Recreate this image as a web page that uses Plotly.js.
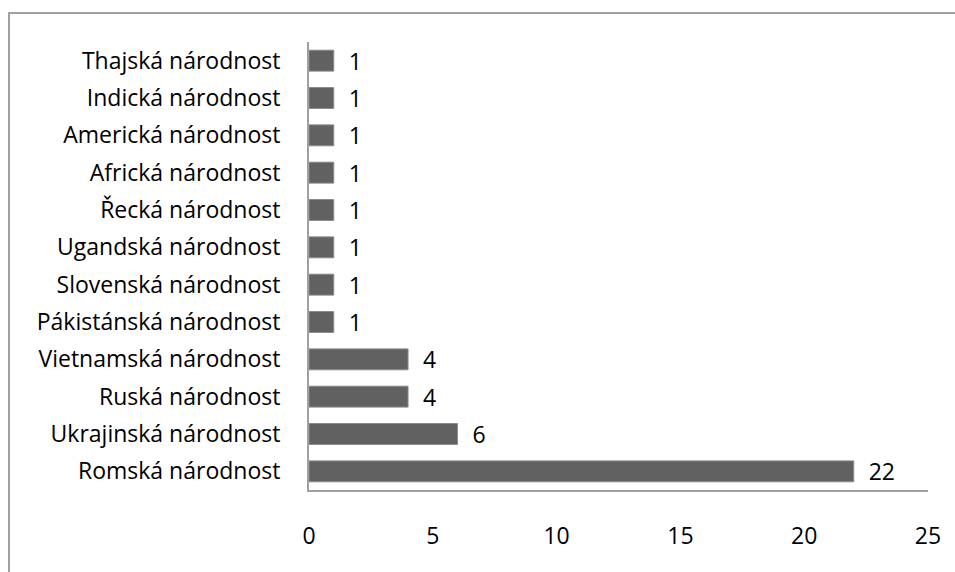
<!DOCTYPE html>
<html>
<head>
<meta charset="utf-8">
<script src="https://cdn.plot.ly/plotly-3.0.1.min.js"></script>
<style>html,body{margin:0;padding:0;background:#fff;}</style>
</head>
<body>
<div id="chart" style="width:955px;height:572px;"></div>
<script>
const categories = [
  "Romská národnost",
  "Ukrajinská národnost",
  "Ruská národnost",
  "Vietnamská národnost",
  "Pákistánská národnost",
  "Slovenská národnost",
  "Ugandská národnost",
  "Řecká národnost",
  "Africká národnost",
  "Americká národnost",
  "Indická národnost",
  "Thajská národnost"
];
const counts = [22, 6, 4, 4, 1, 1, 1, 1, 1, 1, 1, 1];
const xTicks = [0, 5, 10, 15, 20, 25];

const W = 955, H = 572;
const mL = 309, mR = 27, mT = 42, mB = 82;
const pw = W - mL - mR, ph = H - mT - mB;
const px = v => (v - mL) / pw;
const py = v => 1 - (v - mT) / ph;

const fontFam = "'Open Sans', sans-serif";
const fs = 23;

const trace = {
  type: 'bar',
  orientation: 'h',
  y: categories,
  x: counts,
  marker: {color: '#616161', line: {color: '#8a8a8a', width: 1}},
  text: counts.map(v => '  ' + v),
  textposition: 'outside',
  constraintext: 'none',
  textfont: {family: fontFam, size: fs, color: '#000'},
  cliponaxis: false,
  hoverinfo: 'none'
};

const layout = {
  width: W, height: H,
  margin: {l: mL, r: mR, t: mT, b: mB},
  paper_bgcolor: '#fff', plot_bgcolor: '#fff',
  showlegend: false,
  bargap: 0.44,
  font: {family: fontFam, size: fs, color: '#000'},
  xaxis: {
    range: [0, 25],
    tickvals: xTicks,
    ticktext: xTicks.map(String),
    showgrid: false, zeroline: false,
    showline: true, linecolor: '#a0a0a0', linewidth: 2,
    ticks: '', ticklabelstandoff: 24,
    tickfont: {family: fontFam, size: fs, color: '#000'}
  },
  yaxis: {
    type: 'category',
    categoryorder: 'array', categoryarray: categories,
    showgrid: false, zeroline: false,
    showline: true, linecolor: '#a0a0a0', linewidth: 2,
    ticks: '', ticklabelstandoff: 22,
    tickfont: {family: fontFam, size: fs, color: '#000'}
  },
  shapes: [{
    type: 'path', xref: 'paper', yref: 'paper',
    path: `M ${px(9)} ${py(H + 20)} L ${px(9)} ${py(13)} L ${px(W + 20)} ${py(13)}`,
    line: {color: '#a0a0a0', width: 2}
  }]
};

Plotly.newPlot('chart', [trace], layout, {displayModeBar: false, staticPlot: true});
</script>
</body>
</html>
